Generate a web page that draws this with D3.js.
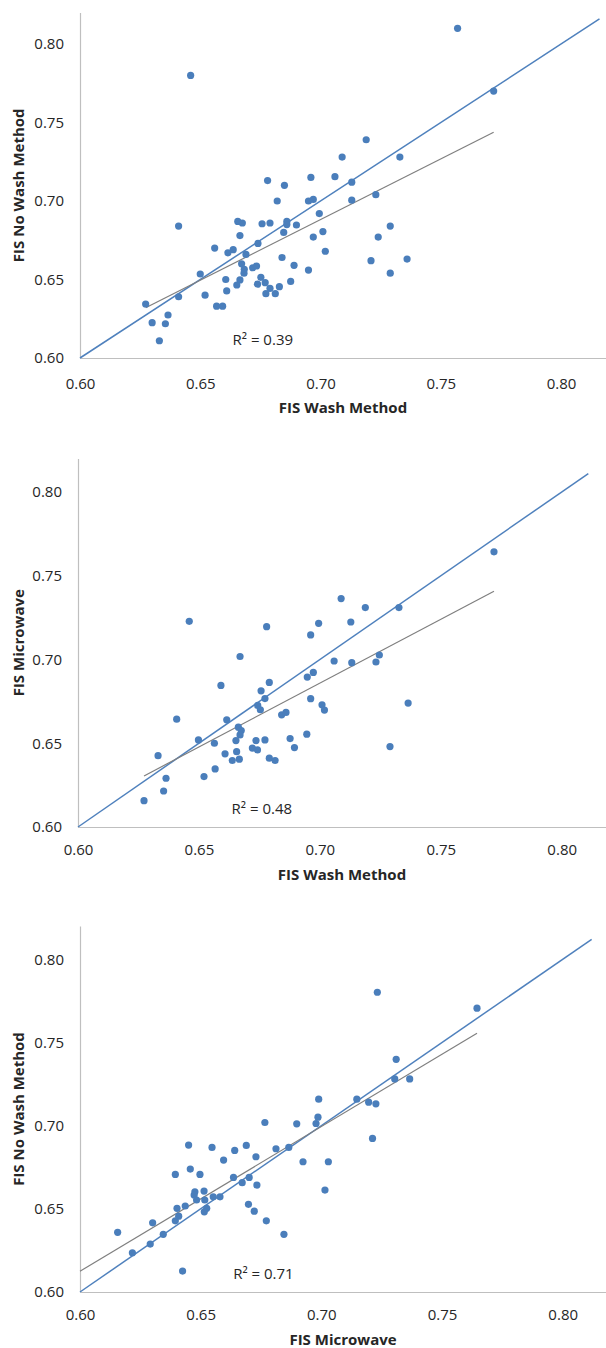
<!DOCTYPE html>
<html>
<head>
<meta charset="utf-8">
<script src="https://cdn.jsdelivr.net/npm/d3@7"></script>
<style>
  body { margin: 0; background: #fff; }
  svg { display: block; }
  text { font-family: "Open Sans", sans-serif; }
</style>
</head>
<body>
<div id="chart"></div>
<script>
// FIS Wash (x) vs FIS No Wash (y)
const washVsNoWash = [
  [0.646, 0.780], [0.757, 0.810], [0.772, 0.770], [0.719, 0.739], [0.709, 0.728],
  [0.733, 0.728], [0.678, 0.713], [0.685, 0.710], [0.696, 0.715], [0.706, 0.7155],
  [0.713, 0.712], [0.682, 0.700], [0.695, 0.700], [0.697, 0.701], [0.713, 0.7005],
  [0.723, 0.704], [0.6995, 0.692], [0.729, 0.684], [0.697, 0.677], [0.701, 0.6805],
  [0.724, 0.677], [0.702, 0.668], [0.721, 0.662], [0.736, 0.663], [0.729, 0.654],
  [0.695, 0.656], [0.641, 0.684], [0.6656, 0.687], [0.6675, 0.686], [0.6757, 0.6855],
  [0.679, 0.686], [0.686, 0.687], [0.686, 0.685], [0.690, 0.6847], [0.6847, 0.680],
  [0.6665, 0.678], [0.656, 0.670], [0.6615, 0.667], [0.6637, 0.669], [0.669, 0.666],
  [0.674, 0.673], [0.684, 0.664], [0.689, 0.659], [0.6672, 0.660], [0.6683, 0.6565],
  [0.6682, 0.654], [0.6718, 0.6575], [0.6734, 0.6586], [0.650, 0.6535], [0.6606, 0.650],
  [0.6665, 0.6497], [0.6652, 0.6465], [0.661, 0.6427], [0.6752, 0.6514], [0.677, 0.648],
  [0.6738, 0.647], [0.679, 0.6444], [0.6829, 0.6454], [0.6773, 0.641], [0.6812, 0.641],
  [0.6876, 0.6488], [0.641, 0.639], [0.652, 0.640], [0.6568, 0.633], [0.6593, 0.633],
  [0.6273, 0.6344], [0.630, 0.6225], [0.6355, 0.6218], [0.6366, 0.6274], [0.633, 0.611]
];

// FIS Wash (x) vs FIS Microwave (y)
const washVsMicrowave = [
  [0.646, 0.7228], [0.678, 0.7196], [0.6962, 0.7147], [0.772, 0.7643], [0.7088, 0.7364],
  [0.7188, 0.731], [0.7327, 0.731], [0.6995, 0.7216], [0.7128, 0.7224], [0.667, 0.7018],
  [0.6591, 0.6845], [0.6791, 0.6863], [0.6757, 0.6813], [0.6773, 0.6767], [0.6948, 0.6895],
  [0.6973, 0.6923], [0.6962, 0.6766], [0.6743, 0.6726], [0.6754, 0.670], [0.6408, 0.6644],
  [0.6615, 0.664], [0.6842, 0.667], [0.686, 0.6684], [0.6498, 0.652], [0.6564, 0.650],
  [0.6663, 0.6596], [0.6675, 0.6576], [0.667, 0.655], [0.6653, 0.6516], [0.6736, 0.6516],
  [0.6773, 0.652], [0.6877, 0.6528], [0.6895, 0.6474], [0.6946, 0.6554], [0.6721, 0.6471],
  [0.6742, 0.646], [0.6656, 0.645], [0.6608, 0.6437], [0.6638, 0.6397], [0.6667, 0.6405],
  [0.6791, 0.6411], [0.6815, 0.6397], [0.6331, 0.6426], [0.6567, 0.6347], [0.6521, 0.6301],
  [0.6364, 0.6291], [0.6354, 0.6215], [0.6273, 0.6157], [0.7059, 0.6991], [0.7132, 0.6981],
  [0.7232, 0.6985], [0.7246, 0.7027], [0.7009, 0.673], [0.7019, 0.6698], [0.7365, 0.674],
  [0.729, 0.648]
];

// FIS Microwave (x) vs FIS No Wash (y)
const microwaveVsNoWash = [
  [0.6766, 0.7019], [0.6898, 0.7011], [0.7232, 0.7802], [0.7645, 0.7706], [0.731, 0.7399],
  [0.7304, 0.7281], [0.7366, 0.7281], [0.6989, 0.7159], [0.7147, 0.7159], [0.7196, 0.7141],
  [0.7226, 0.7131], [0.6986, 0.7051], [0.6978, 0.7013], [0.645, 0.6883], [0.6547, 0.6869],
  [0.6641, 0.6851], [0.6689, 0.6881], [0.6812, 0.6861], [0.6865, 0.6869], [0.6595, 0.6793],
  [0.6729, 0.6813], [0.6924, 0.6783], [0.6457, 0.6739], [0.6395, 0.6707], [0.6497, 0.6707],
  [0.6636, 0.6689], [0.6701, 0.6689], [0.6672, 0.6657], [0.6733, 0.6643], [0.6476, 0.6602],
  [0.6514, 0.6607], [0.6473, 0.6583], [0.6552, 0.6572], [0.658, 0.6572], [0.6483, 0.6553],
  [0.6517, 0.6553], [0.6402, 0.6503], [0.6436, 0.6517], [0.6525, 0.6503], [0.6515, 0.6482],
  [0.6698, 0.6527], [0.6722, 0.6486], [0.6409, 0.6456], [0.6395, 0.6428], [0.6301, 0.6416],
  [0.6772, 0.6428], [0.6156, 0.6359], [0.6345, 0.6347], [0.6845, 0.6347], [0.6291, 0.6288],
  [0.6217, 0.6236], [0.6425, 0.6126], [0.7212, 0.6923], [0.7029, 0.6783], [0.7015, 0.6613]
];

const xTitles = ["FIS Wash Method", "FIS Wash Method", "FIS Microwave"];
const yTitles = ["FIS No Wash Method", "FIS Microwave", "FIS No Wash Method"];
const r2Labels = ["R\u00B2 = 0.39", "R\u00B2 = 0.48", "R\u00B2 = 0.71"];
const tickValues = [0.60, 0.65, 0.70, 0.75, 0.80];
// 1:1 line end and trend line x-extent per panel
const identityEnds = [0.816, 0.811, 0.812];
const trendRanges = [[0.6273, 0.772], [0.6273, 0.772], [0.600, 0.7645]];

const W = 606, H = 1348;
const blue = "#4a7ebb";

// pixel anchors for 0.60 and 0.80 on each panel
const layout = [
  { x: [80, 561], y: [358, 44], xPad: 20, titleY: 408 },
  { x: [78, 561.7], y: [827, 492], xPad: 17.5, titleY: 874.5 },
  { x: [80, 562.7], y: [1292, 959.3], xPad: 17, titleY: 1340 }
];

const svg = d3.select("#chart").append("svg")
  .attr("width", W)
  .attr("height", H);

function fit(pts) {
  const mx = d3.mean(pts, d => d[0]), my = d3.mean(pts, d => d[1]);
  const sxy = d3.sum(pts, d => (d[0] - mx) * (d[1] - my));
  const sxx = d3.sum(pts, d => (d[0] - mx) ** 2);
  const b = sxy / sxx;
  return [my - b * mx, b];
}

const datasets = [washVsNoWash, washVsMicrowave, microwaveVsNoWash];

datasets.forEach((data, i) => {
  const L = layout[i];
  const x = d3.scaleLinear().domain([0.6, 0.82])
    .range([L.x[0], L.x[0] + (L.x[1] - L.x[0]) * 1.1]);
  const y = d3.scaleLinear().domain([0.6, 0.82])
    .range([L.y[0], L.y[0] + (L.y[1] - L.y[0]) * 1.1]);
  const g = svg.append("g");

  // axes
  const xAxis = g.append("g")
    .attr("transform", "translate(0," + y(0.6) + ")")
    .call(d3.axisBottom(x).tickValues(tickValues).tickSize(0).tickSizeOuter(0)
      .tickPadding(L.xPad).tickFormat(d3.format(".2f")));
  const yAxis = g.append("g")
    .attr("transform", "translate(" + x(0.6) + ",0)")
    .call(d3.axisLeft(y).tickValues(tickValues).tickSize(0).tickSizeOuter(0)
      .tickPadding(16).tickFormat(d3.format(".2f")));
  [xAxis, yAxis].forEach(a => {
    a.select(".domain").attr("stroke", "#bfbfbf").attr("stroke-width", 1.2);
    a.selectAll("text").attr("fill", "#262626").style("font-size", "15px")
      .style("font-family", "'Open Sans', sans-serif");
  });

  // 1:1 line
  const e = identityEnds[i];
  g.append("line")
    .attr("x1", x(0.6)).attr("y1", y(0.6))
    .attr("x2", x(e)).attr("y2", y(e))
    .attr("stroke", "#4f81bd")
    .attr("stroke-width", 1.5);

  // linear trend
  const [a, b] = fit(data);
  const tr = trendRanges[i];
  g.append("line")
    .attr("x1", x(tr[0])).attr("y1", y(a + b * tr[0]))
    .attr("x2", x(tr[1])).attr("y2", y(a + b * tr[1]))
    .attr("stroke", "#7f7f7f")
    .attr("stroke-width", 1.2);

  // points
  g.append("g").selectAll("circle")
    .data(data)
    .enter()
    .append("circle")
    .attr("cx", d => x(d[0]))
    .attr("cy", d => y(d[1]))
    .attr("r", 3.6)
    .attr("fill", blue);

  // R² label
  g.append("text")
    .attr("x", x(0.676))
    .attr("y", y(0.6) - 13)
    .attr("text-anchor", "middle")
    .attr("fill", "#262626")
    .style("font-size", "15px")
    .text(r2Labels[i]);

  // axis titles
  const cx = (x(0.6) + W) / 2;
  g.append("text")
    .attr("x", cx)
    .attr("y", L.titleY)
    .attr("dy", "0.35em")
    .attr("text-anchor", "middle")
    .attr("font-weight", "bold")
    .attr("fill", "#262626")
    .style("font-size", "15px")
    .text(xTitles[i]);
  const cy = (y(0.6) + y(0.82)) / 2;
  g.append("text")
    .attr("transform", "translate(19," + cy + ") rotate(-90)")
    .attr("dy", "0.35em")
    .attr("text-anchor", "middle")
    .attr("font-weight", "bold")
    .attr("fill", "#262626")
    .style("font-size", "15px")
    .text(yTitles[i]);
});
</script>
</body>
</html>
